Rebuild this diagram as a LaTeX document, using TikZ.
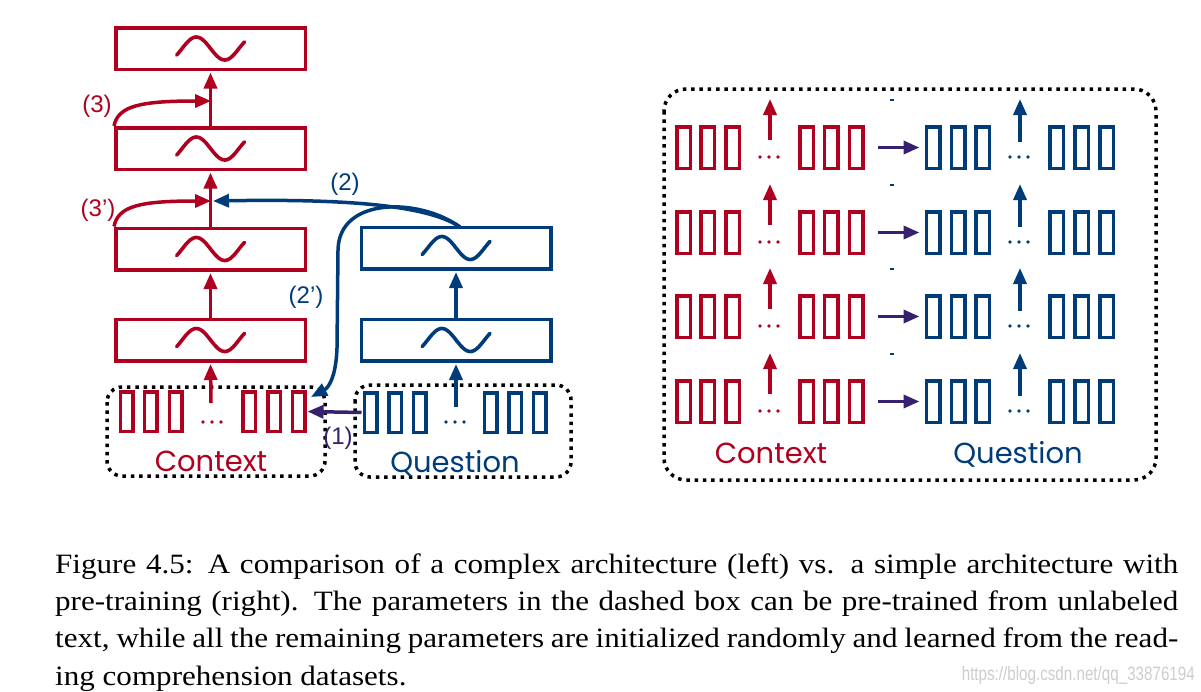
\documentclass[tikz,border=0pt]{standalone}
\usepackage{fontspec}
\setmainfont{Liberation Serif}
\newfontfamily\capfont[FakeStretch=1.11]{Liberation Serif}
\newfontfamily\geofont{Poppins}
\newfontfamily\labfont{Liberation Sans}
\usetikzlibrary{arrows.meta}
\definecolor{cred}{RGB}{176,0,32}
\definecolor{cblue}{RGB}{0,60,122}
\definecolor{cpurp}{RGB}{55,32,112}
\definecolor{wmark}{RGB}{205,205,205}
\tikzset{
  layer/.style={draw, line width=3.5pt, minimum width=189.5pt, minimum height=41.5pt, inner sep=0pt},
  tok/.style={draw, line width=3.5pt, minimum width=12.5pt, minimum height=39.5pt, inner sep=0pt},
  rtok/.style={draw, line width=3.5pt, minimum width=13.5pt, minimum height=41.5pt, inner sep=0pt},
  dotbox/.style={draw=black, line width=3.5pt, dash pattern=on 3.5pt off 4.8pt, rounded corners=15pt},
  tip/.style={-{Triangle[length=16pt,width=13pt]}},
  ra/.style={cred, line width=3.5pt, tip},
  ba/.style={cblue, line width=3.5pt, tip},
  pa/.style={cpurp, line width=3.5pt, tip},
  lab/.style={font=\labfont\fontsize{24}{26}\selectfont, inner sep=0pt},
  grp/.style={font=\geofont\fontsize{29}{31}\selectfont, inner sep=0pt, anchor=base},
  capline/.style={anchor=base west, inner sep=0pt, font=\capfont\fontsize{28}{37}\selectfont},
  tld/.pic={\draw[line width=3.6pt, line cap=round] plot[domain=-35:395, samples=50, smooth] ({\x*0.158-28.4}, {-11.5*sin(\x)});}
}
\newcommand{\dotsrow}[3]{\fill[#3] (#1-9,#2) circle (1.9pt) (#1,#2) circle (1.9pt) (#1+9,#2) circle (1.9pt);}
\begin{document}
\begin{tikzpicture}[x=1pt,y=-1pt]
\useasboundingbox (0,0) rectangle (1201,691);
\fill[white] (0,0) rectangle (1201,691);

% ---------------- left: complex architecture
\node[layer, draw=cred] (L1) at (210.5,48.5) {};
\node[layer, draw=cred] (L2) at (210.5,148.5) {};
\node[layer, draw=cred] (L3) at (210.5,249) {};
\node[layer, draw=cred] (L4) at (210.5,340) {};
\node[layer, draw=cblue] (Q1) at (456,248) {};
\node[layer, draw=cblue] (Q2) at (456,340) {};
\foreach \n in {L1,L2,L3,L4} \pic[color=cred] at (\n) {tld};
\foreach \n in {Q1,Q2} \pic[color=cblue] at (\n) {tld};

% tokens
\foreach \j/\xx in {1/126.5,2/150.5,3/175.5,4/249,5/274,6/298.5}
  \node[tok, draw=cred] (c\j) at (\xx,411.5) {};
\foreach \j/\xx in {1/370.5,2/395,3/419.5,4/490.5,5/515,6/539.5}
  \node[tok, draw=cblue] (q\j) at (\xx,412.5) {};
\dotsrow{212}{422}{cred}
\dotsrow{455}{422}{cblue}

% dotted groups
\draw[dotbox] (107,387) rectangle (325,476);
\node[inner sep=0pt] (cbox) at (216,431.5) {};
\draw[dotbox] (355,385) rectangle (571,477);
\node[inner sep=0pt] (qbox) at (463,431) {};
\node[grp, text=cred] (ctxL) at (211,471) {Context};
\node[grp, text=cblue] (qstL) at (455,472) {Question};

% vertical arrows
\draw[ra, shorten >=1.5pt] (L2.north) -- (L1.south);
\draw[ra, shorten >=1.5pt] (L3.north) -- (L2.south);
\draw[ra, shorten >=1.5pt] (L4.north) -- (L3.south);
\coordinate (ca) at (211,403);
\draw[ra, shorten >=1.5pt] (ca) -- (L4.south);
\draw[ba, shorten >=1.5pt] (Q2.north) -- (Q1.south);
\coordinate (qa) at (456,407);
\draw[ba, shorten >=1.5pt] (qa) -- (Q2.south);

% skip connections (3), (3')
\coordinate (m3) at (211,101);
\coordinate (m3p) at (211,201);
\draw[ra] (L2.north west) .. controls (118,106) and (140,101) .. (m3);
\draw[ra] (L3.north west) .. controls (118,206) and (140,201) .. (m3p);
\node[lab, text=cred] (l3) at (97,106) {(3)};
\node[lab, text=cred] (l3p) at (98,210) {(3’)};

% attention arrows (2), (2')
\coordinate (qs) at (460,227);
\coordinate (m2) at (213,201);
\coordinate (ctip) at (311,397);
\draw[ba] (qs) .. controls (425,203) and (330,199) .. (m2);
\draw[ba] (qs) .. controls (420,198) and (339,196) .. (338,250) -- (337,348) .. controls (336,378) and (328,388) .. (ctip);
\node[lab, text=cblue] (l2) at (345,184) {(2)};
\node[lab, text=cblue] (l2p) at (306,297) {(2’)};

% (1)
\draw[pa, shorten <=1pt, shorten >=1pt] (q1.west) -- (c6.east);
\node[lab, text=cpurp] (l1) at (338,438) {(1)};

% ---------------- right: simple architecture
\draw[dotbox, rounded corners=22pt] (664,89) rectangle (1156,480);
\foreach \r/\T in {1/125,2/210,3/294,4/379} {
  \foreach \j/\xx in {1/683.5,2/707.5,3/732.5,4/806.5,5/831,6/856}
    \node[rtok, draw=cred] (R\r-\j) at (\xx,\T+22.5) {};
  \foreach \j/\xx in {1/933,2/958,3/982.5,4/1056.5,5/1081.5,6/1106.5}
    \node[rtok, draw=cblue] (B\r-\j) at (\xx,\T+22.5) {};
  \dotsrow{769}{\T+32}{cred}
  \dotsrow{1019}{\T+32}{cblue}
  \coordinate (Ra\r) at (770,\T+15);
  \coordinate (Rb\r) at (770,\T-26);
  \draw[ra] (Ra\r) -- (Rb\r);
  \coordinate (Ba\r) at (1020,\T+17);
  \coordinate (Bb\r) at (1020,\T-26);
  \draw[ba] (Ba\r) -- (Bb\r);
  \draw[pa, shorten <=13pt, shorten >=5pt] (R\r-6.east) -- (B\r-1.west);
  \draw[cblue, line width=1.2pt] (890,\T-25) -- (894,\T-25);
}
\node[grp, text=cred] (ctxR) at (771,463) {Context};
\node[grp, text=cblue] (qstR) at (1018,463) {Question};

% ---------------- caption
\node[capline] (cap1) at (55,573) {\makebox[1123pt][s]{Figure 4.5: A comparison of a complex architecture (left) vs. a simple architecture with}};
\node[capline] (cap2) at (55,610) {\makebox[1123pt][s]{pre-training (right). The parameters in the dashed box can be pre-trained from unlabeled}};
\node[capline] (cap3) at (55,647.5) {\makebox[1123pt][s]{text, while all the remaining parameters are initialized randomly and learned from the read-}};
\node[capline] (cap4) at (55,685) {ing comprehension datasets.};
\node[anchor=base east, inner sep=0pt, text=wmark] (wm) at (1195,680) {\resizebox{233pt}{14pt}{\labfont https://blog.csdn.net/qq\_33876194}};
\end{tikzpicture}
\end{document}
